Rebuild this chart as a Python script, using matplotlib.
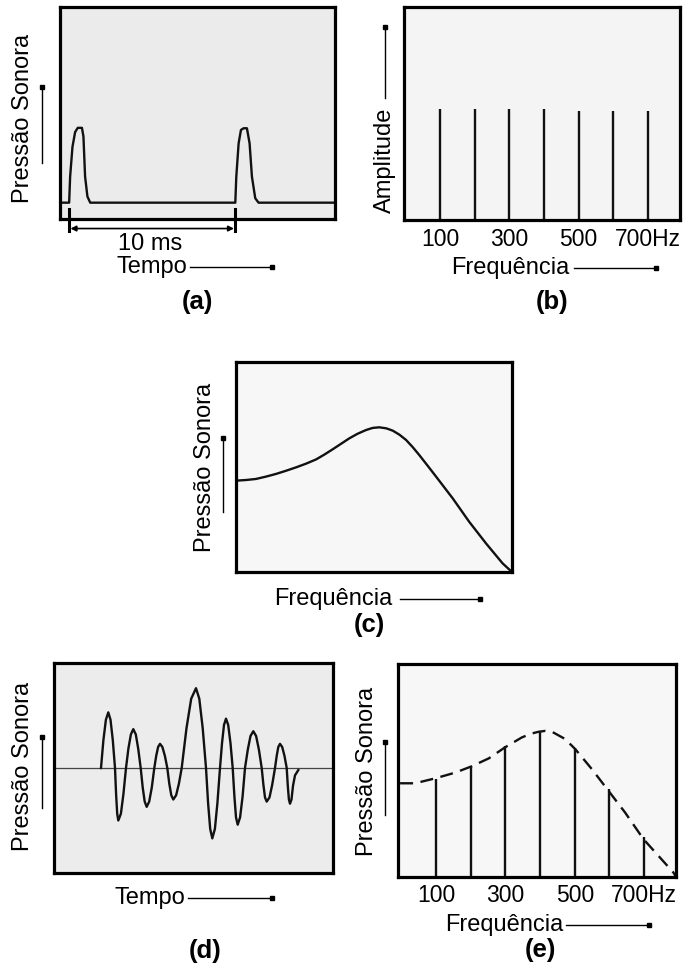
import matplotlib
matplotlib.use('Agg')
import matplotlib.pyplot as plt
from matplotlib.lines import Line2D

plt.rcParams['font.family'] = ['Liberation Sans', 'DejaVu Sans']

# (a) glottal pulses: time in ms, pressure (0..1 of box)
pulse_t = [-0.55, 0.0, 0.06, 0.2, 0.36, 0.52, 0.77, 0.86, 0.96, 1.1, 1.27,
           10.0, 10.06, 10.2, 10.34, 10.5, 10.7, 10.86, 11.0, 11.2, 11.4, 16.0]
pulse_p = [0.077, 0.077, 0.20, 0.34, 0.41, 0.43, 0.43, 0.39, 0.20, 0.106, 0.077,
           0.077, 0.20, 0.357, 0.42, 0.428, 0.428, 0.357, 0.20, 0.098, 0.077, 0.077]

# (b) line spectrum
harm_f = [100, 200, 300, 400, 500, 600, 700]
harm_amp = [0.52, 0.52, 0.52, 0.52, 0.51, 0.51, 0.51]
tick_f = [100, 300, 500, 700]
tick_lbl = ['100', '300', '500', '700Hz']

# (c) vocal tract response (normalised frequency)
resp_f = [0.0, 0.036, 0.072, 0.108, 0.145, 0.181, 0.217, 0.254, 0.29, 0.32,
          0.35, 0.38, 0.41, 0.44, 0.471, 0.495, 0.519, 0.545, 0.568, 0.592,
          0.616, 0.64, 0.664, 0.695, 0.725, 0.785, 0.845, 0.906, 0.966, 1.0]
resp_p = [0.435, 0.438, 0.443, 0.454, 0.467, 0.482, 0.498, 0.516, 0.536, 0.559,
          0.584, 0.61, 0.636, 0.658, 0.676, 0.686, 0.689, 0.684, 0.673, 0.654,
          0.629, 0.595, 0.557, 0.505, 0.454, 0.351, 0.239, 0.136, 0.041, 0.0]

# (d) output waveform
wave_t = [4.7, 4.94, 5.19, 5.43, 5.65, 5.88, 6.1,
          6.21, 6.32, 6.43, 6.69, 6.94, 7.2,
          7.44, 7.69, 7.93, 8.18, 8.42, 8.67,
          8.87, 9.07, 9.27, 9.52, 9.78, 10.03,
          10.22, 10.41, 10.6, 10.84, 11.09, 11.33,
          11.53, 11.73, 11.93, 12.21, 12.49, 12.77,
          13.25, 13.72, 14.2, 14.53, 14.87, 15.2,
          15.41, 15.62, 15.83, 16.09, 16.34, 16.6,
          16.8, 17.0, 17.2, 17.42, 17.65, 17.87,
          18.04, 18.2, 18.37, 18.61, 18.86, 19.1,
          19.38, 19.65, 19.93, 20.21, 20.49, 20.77,
          20.94, 21.1, 21.27, 21.55, 21.82, 22.1,
          22.27, 22.43, 22.6, 22.82, 23.05, 23.27,
          23.38, 23.49, 23.6, 23.75, 23.9, 24.1, 24.43]
wave_p = [0.0, 0.265, 0.46, 0.53, 0.46, 0.265, 0.0,
          -0.25, -0.435, -0.50, -0.435, -0.25, 0.0,
          0.185, 0.32, 0.37, 0.32, 0.185, 0.0,
          -0.185, -0.32, -0.37, -0.32, -0.185, 0.0,
          0.115, 0.20, 0.23, 0.20, 0.115, 0.0,
          -0.15, -0.26, -0.30, -0.26, -0.15, 0.0,
          0.38, 0.66, 0.76, 0.66, 0.38, 0.0,
          -0.335, -0.58, -0.67, -0.58, -0.335, 0.0,
          0.235, 0.41, 0.47, 0.41, 0.235, 0.0,
          -0.27, -0.47, -0.54, -0.47, -0.27, 0.0,
          0.175, 0.305, 0.35, 0.305, 0.175, 0.0,
          -0.16, -0.28, -0.32, -0.28, -0.16, 0.0,
          0.115, 0.20, 0.23, 0.20, 0.115, 0.0,
          -0.17, -0.30, -0.34, -0.30, -0.17, -0.07, -0.02]

# (e) output spectrum
out_amp = [0.46, 0.523, 0.616, 0.685, 0.604, 0.413, 0.189]
env_f = [-4, 39, 97, 155, 203, 252, 299, 347, 372, 396, 415, 434, 472, 501,
         549, 597, 645, 698, 741, 785, 792]
env_p = [0.44, 0.44, 0.463, 0.49, 0.52, 0.557, 0.609, 0.655, 0.672, 0.682,
         0.686, 0.682, 0.648, 0.601, 0.507, 0.405, 0.303, 0.178, 0.10, 0.02, 0.0]

W, H = 688, 967
fig = plt.figure(figsize=(W / 100, H / 100), dpi=100)
FS = 17


def box(x0, y0, x1, y1, bg):
    ax = fig.add_axes([x0 / W, 1 - y1 / H, (x1 - x0) / W, (y1 - y0) / H])
    ax.set_facecolor(bg)
    for s in ax.spines.values():
        s.set_linewidth(2.3)
    ax.set_xticks([])
    ax.set_yticks([])
    return ax


def txt(x, y, s, **kw):
    kw.setdefault('fontsize', FS)
    fig.text(x / W, 1 - y / H, s, ha='center', va='center', **kw)


def harrow(x0, x1, y):
    fig.add_artist(Line2D([x0 / W, x1 / W], [1 - y / H] * 2, color='black', lw=1.0))
    fig.add_artist(Line2D([x1 / W], [1 - y / H], marker='s', ms=3, color='black'))


def varrow(x, y0, y1):
    fig.add_artist(Line2D([x / W] * 2, [1 - y0 / H, 1 - y1 / H], color='black', lw=1.0))
    fig.add_artist(Line2D([x / W], [1 - y1 / H], marker='s', ms=3, color='black'))


# ---- (a)
ax = box(60, 7, 335, 219, '#ebebeb')
ax.plot(pulse_t, pulse_p, color='#111111', lw=1.7, solid_joinstyle='round')
ax.set_xlim(-0.55, 16.0)
ax.set_ylim(0, 1)
for t in (0, 10):
    ax.plot([t, t], [0.045, -0.055], color='black', lw=2.2, clip_on=False)
ax.annotate('', xy=(0.08, -0.045), xytext=(9.92, -0.045), xycoords='data',
            annotation_clip=False,
            arrowprops=dict(arrowstyle='<|-|>', color='black', lw=1.2,
                            mutation_scale=8, shrinkA=0, shrinkB=0))
txt(150, 244, '10 ms')
txt(23, 118, 'Pressão Sonora', rotation=90)
varrow(42, 163, 87)
txt(152, 267, 'Tempo')
harrow(190, 272, 267)
txt(197, 302, '(a)', fontweight='bold', fontsize=18.5)

# ---- (b)
ax = box(404, 7, 680, 220, '#f4f4f4')
ax.vlines(harm_f, 0, harm_amp, color='#111111', lw=1.7)
ax.set_xlim(-4, 793)
ax.set_ylim(0, 1)
ax.set_xticks(tick_f)
ax.set_xticklabels(tick_lbl, fontsize=16.5)
ax.tick_params(length=0, pad=6)
txt(385, 160, 'Amplitude', rotation=90)
varrow(385, 98, 27)
txt(510, 268, 'Frequência')
harrow(574, 656, 268)
txt(552, 302, '(b)', fontweight='bold', fontsize=18.5)

# ---- (c)
ax = box(236, 362, 512, 572, '#f7f7f7')
ax.plot(resp_f, resp_p, color='#111111', lw=1.7, solid_joinstyle='round')
ax.set_xlim(0, 1)
ax.set_ylim(0, 1)
txt(205, 467, 'Pressão Sonora', rotation=90)
varrow(223, 512, 438)
txt(333, 599, 'Frequência')
harrow(400, 480, 599)
txt(369, 625, '(c)', fontweight='bold', fontsize=18.5)

# ---- (d)
ax = box(54, 663, 333, 873, '#ececec')
ax.axhline(0, color='#444444', lw=0.9)
ax.plot(wave_t, wave_p, color='#111111', lw=1.7, solid_joinstyle='round')
ax.set_xlim(0, 27.9)
ax.set_ylim(-1, 1)
txt(23, 766, 'Pressão Sonora', rotation=90)
varrow(42, 808, 737)
txt(150, 898, 'Tempo')
harrow(188, 272, 898)
txt(205, 951, '(d)', fontweight='bold', fontsize=18.5)

# ---- (e)
ax = box(398, 664, 676, 877, '#f7f7f7')
ax.vlines(harm_f, 0, out_amp, color='#111111', lw=1.7)
ax.plot(env_f, env_p, color='#111111', lw=1.7, linestyle=(0, (5.5, 3.2)))
ax.set_xlim(-10, 792)
ax.set_ylim(0, 1)
ax.set_xticks(tick_f)
ax.set_xticklabels(tick_lbl, fontsize=16.5)
ax.tick_params(length=0, pad=5)
txt(367, 771, 'Pressão Sonora', rotation=90)
varrow(385, 815, 742)
txt(504, 925, 'Frequência')
harrow(566, 649, 925)
txt(540, 950, '(e)', fontweight='bold', fontsize=18.5)

fig.savefig('out.png', dpi=100, facecolor='white')
